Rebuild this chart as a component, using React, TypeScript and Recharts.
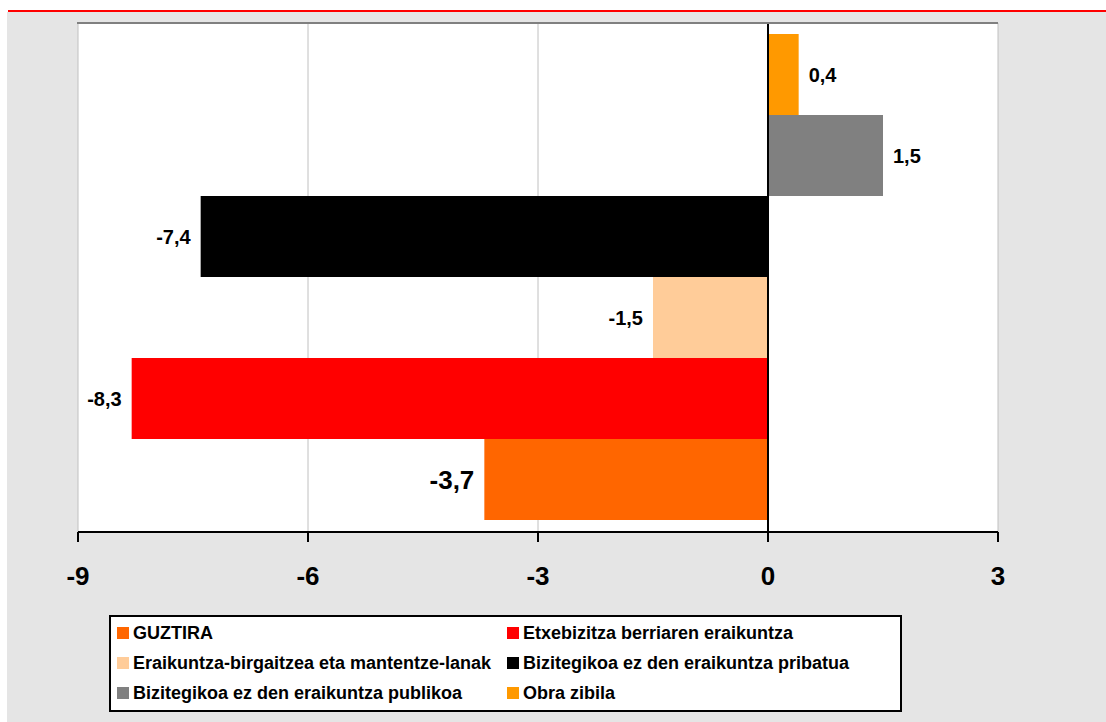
import {
  BarChart,
  Bar,
  XAxis,
  YAxis,
  CartesianGrid,
  ReferenceLine,
  LabelList,
} from "recharts";

// legend order (top-left to bottom-right)
const SERIES = [
  "GUZTIRA",
  "Etxebizitza berriaren eraikuntza",
  "Eraikuntza-birgaitzea eta mantentze-lanak",
  "Bizitegikoa ez den eraikuntza pribatua",
  "Bizitegikoa ez den eraikuntza publikoa",
  "Obra zibila",
];
const VALUES = [-3.7, -8.3, -1.5, -7.4, 1.5, 0.4];
const COLORS = ["#ff6600", "#ff0000", "#ffcc99", "#000000", "#808080", "#ff9900"];
const X_TICKS = [-9, -6, -3, 0, 3];

const row: Record<string, string | number> = { name: "" };
SERIES.forEach((s, i) => {
  row[s] = VALUES[i];
});
const data = [row];

const FONT = "'Liberation Sans', Arial, sans-serif";

const fmt = (v: number) => v.toFixed(1).replace(".", ",");

const valueLabel = (big: boolean) => (props: any) => {
  const { x, y, width, height, value } = props;
  const left = Math.min(x, x + width);
  const right = Math.max(x, x + width);
  const neg = value < 0;
  return (
    <text
      x={neg ? left - 10 : right + 10}
      y={y + height / 2}
      textAnchor={neg ? "end" : "start"}
      dominantBaseline="central"
      fontFamily={FONT}
      fontSize={big ? 26 : 20}
      fontWeight="bold"
      fill="#000"
    >
      {fmt(value)}
    </text>
  );
};

export default function App() {
  // bars go top to bottom in render order, so draw them reversed
  const drawOrder = SERIES.map((s, i) => i).reverse();

  return (
    <div
      style={{
        position: "absolute",
        top: 0,
        left: 0,
        width: 1106,
        height: 722,
        background: "#fff",
        fontFamily: FONT,
      }}
    >
      <div
        style={{
          position: "absolute",
          left: 8,
          top: 10,
          width: 1098,
          height: 2,
          background: "#ff0000",
        }}
      />
      <div
        style={{
          position: "absolute",
          left: 7,
          top: 12,
          width: 1099,
          height: 710,
          background: "#e5e5e5",
        }}
      />
      <div style={{ position: "absolute", left: 0, top: 0 }}>
        <BarChart
          width={1106}
          height={722}
          layout="vertical"
          data={data}
          margin={{ top: 23, right: 108, left: 78, bottom: 150 }}
          barCategoryGap={11}
          barGap={0}
        >
          <CartesianGrid horizontal={false} stroke="#c0c0c0" fill="#fff" />
          <XAxis
            type="number"
            domain={[-9, 3]}
            ticks={X_TICKS}
            allowDataOverflow
            height={40}
            axisLine={{ stroke: "#000", strokeWidth: 2 }}
            tickLine={{ stroke: "#000", strokeWidth: 2 }}
            tickSize={10}
            tickMargin={25}
            tick={{ fontSize: 26, fontWeight: "bold", fill: "#000", fontFamily: FONT }}
          />
          <YAxis
            type="category"
            dataKey="name"
            width={0}
            axisLine={{ stroke: "#808080", strokeWidth: 2 }}
            tick={false}
            tickLine={false}
          />
          <YAxis
            yAxisId="right"
            orientation="right"
            type="category"
            dataKey="name"
            width={0}
            axisLine={{ stroke: "#909090", strokeWidth: 2 }}
            tick={false}
            tickLine={false}
          />
          {drawOrder.map((i) => (
            <Bar
              key={SERIES[i]}
              dataKey={SERIES[i]}
              fill={COLORS[i]}
              isAnimationActive={false}
            >
              <LabelList dataKey={SERIES[i]} content={valueLabel(i === 0)} />
            </Bar>
          ))}
          <ReferenceLine x={0} stroke="#000" strokeWidth={2} />
        </BarChart>
      </div>
      {/* top edge of the plot frame */}
      <div
        style={{
          position: "absolute",
          left: 77,
          top: 22,
          width: 921,
          height: 2,
          background: "#808080",
        }}
      />
      <div
        style={{
          position: "absolute",
          left: 109,
          top: 615,
          width: 793,
          height: 97,
          boxSizing: "border-box",
          border: "2px solid #000",
          background: "#fff",
        }}
      >
        {SERIES.map((s, i) => (
          <div
            key={s}
            style={{
              position: "absolute",
              left: i % 2 === 0 ? 6 : 396,
              top: 6 + Math.floor(i / 2) * 30,
              height: 20,
              display: "flex",
              alignItems: "center",
              whiteSpace: "nowrap",
              fontSize: 18,
              fontWeight: "bold",
              color: "#000",
            }}
          >
            <span
              style={{
                display: "inline-block",
                width: 12,
                height: 12,
                background: COLORS[i],
                marginRight: 4,
              }}
            />
            {s}
          </div>
        ))}
      </div>
    </div>
  );
}
